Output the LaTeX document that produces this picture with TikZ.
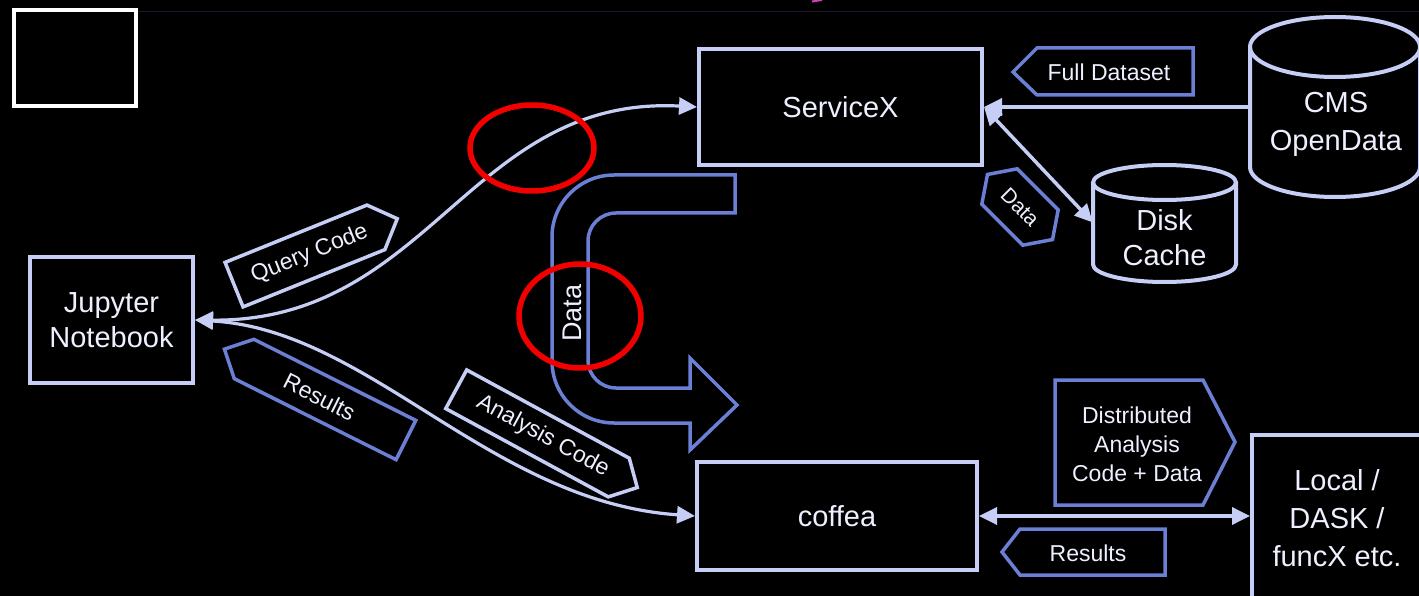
\documentclass[tikz,border=0pt]{standalone}
\usepackage{fontspec}
\setmainfont{Liberation Sans}
\usetikzlibrary{arrows.meta}
\definecolor{lav}{HTML}{C6CEF6}
\definecolor{tagblue}{HTML}{6B7FD4}
\definecolor{txt}{HTML}{EEF0FF}
\definecolor{faint}{HTML}{1C1630}
\definecolor{redc}{HTML}{F20000}
\definecolor{pinkc}{HTML}{D040C0}
\begin{document}
\begin{tikzpicture}[x=1pt,y=-1pt,
  box/.style={draw=lav, line width=4pt, inner sep=0pt},
  bigtxt/.style={text=txt, font=\fontsize{29}{35}\selectfont, align=center, inner sep=0pt},
  tagtxt/.style={text=txt, font=\fontsize{23}{29}\selectfont, align=center, inner sep=0pt},
  conn/.style={draw=lav, line width=3.2pt},
  sconn/.style={draw=lav, line width=3.5pt},
  cyl/.style={draw=lav, line width=4pt},
  taglav/.style={draw=lav, line width=3.5pt, line join=miter},
  tagblu/.style={draw=tagblue, line width=3.5pt, line join=miter},
  >={Triangle[length=18pt,width=17pt]}
]
\useasboundingbox (0,0) rectangle (1419,596);
\fill[black] (0,0) rectangle (1419,596);
\clip (0,0) rectangle (1419,596);

% faint top line, marks
\draw[faint, line width=1pt] (138,12) -- (1419,12);
\draw[pinkc, line width=2pt] (812,1.5) -- (822,0);
\draw[white, line width=4pt] (14,10) rectangle (136,106);

% main boxes
\node[box, bigtxt, minimum width=283pt, minimum height=116pt] (svx) at (840.5,107) {ServiceX};
\node[box, bigtxt, minimum width=163pt, minimum height=126pt] (jup) at (111.5,320) {Jupyter\\Notebook};
\node[box, bigtxt, minimum width=280pt, minimum height=108pt] (cof) at (837,516) {coffea};
\node[box, minimum width=188pt, minimum height=186pt] (loc) at (1346,528) {};
\node[bigtxt, font=\fontsize{29}{38}\selectfont] (loct) at (1337,518) {Local /\\DASK /\\funcX etc.};

% cylinders
\draw[cyl] (1250,47) -- (1250,167) arc[start angle=180, end angle=360, x radius=85pt, y radius=30pt] -- (1420,47);
\draw[cyl] (1335,47) ellipse [x radius=85pt, y radius=30pt];
\node[bigtxt, font=\fontsize{29}{38}\selectfont, minimum width=170pt] (cms) at (1336,124) {CMS\\OpenData};

\draw[cyl] (1093,182.5) -- (1093,264.5) arc[start angle=180, end angle=360, x radius=71.5pt, y radius=17.5pt] -- (1236,182.5);
\draw[cyl] (1164.5,182.5) ellipse [x radius=71.5pt, y radius=17.5pt];
\node[bigtxt, minimum width=143pt] (disk) at (1164.5,237.5) {Disk\\Cache};

% connectors
\draw[conn,<->] (jup.east) .. controls (430,322) and (470,95) .. (svx.west);
\draw[conn,<->] (jup.east) .. controls (370,330) and (490,502) .. (cof.west);
\draw[sconn,->] (cms.west |- svx.east) -- (svx.east);
\draw[sconn,<->] (svx.east) -- ([yshift=15pt]disk.west);
\draw[sconn,<->] (cof.east) -- (loc.west |- cof.east);

% Query Code tag
\begin{scope}[shift={(305,256)}, rotate=22, transform shape]
  \draw[taglav] (-76.5,-24) -- (76.5,-24) -- (99.5,0) -- (76.5,24) -- (-76.5,24) -- cycle;
  \node[tagtxt] (qc) at (5,0) {Query Code};
\end{scope}

% Results tag (left)
\begin{scope}[shift={(325,399.5)}, rotate=-26.6, transform shape]
  \draw[tagblu] (90.5,-22) -- (-90.5,-22) -- (-112.5,0) -- (-90.5,22) -- (90.5,22) -- cycle;
  \node[tagtxt] (resl) at (-6,0) {Results};
\end{scope}

% Analysis Code tag
\begin{scope}[shift={(537.5,433.4)}, rotate=-28.5, transform shape]
  \draw[taglav] (-92.5,-22) -- (92.5,-22) -- (113.5,0) -- (92.5,22) -- (-92.5,22) -- cycle;
  \node[tagtxt] (ac) at (6,0) {Analysis Code};
\end{scope}

% small Data tag
\begin{scope}[shift={(1020,207)}, rotate=-45, transform shape]
  \draw[tagblu] (-29,-25) -- (29,-25) -- (46,0) -- (29,25) -- (-29,25) -- (-46,0) -- cycle;
  \node[tagtxt, font=\fontsize{21}{25}\selectfont] (dsm) at (0,0) {Data};
\end{scope}

% Full Dataset tag
\draw[tagblu] (1013,72) -- (1037,48) -- (1193,48) -- (1193,95) -- (1037,95) -- cycle;
\node[tagtxt] (fd) at (1109,72) {Full Dataset};

% Results tag (right)
\draw[tagblu] (1002,552) -- (1020,529) -- (1165,529) -- (1165,575) -- (1020,575) -- cycle;
\node[tagtxt] (resr) at (1088,553) {Results};

% Distributed tag
\draw[tagblu] (1055,380) -- (1203,380) -- (1235,442) -- (1203,505) -- (1055,505) -- cycle;
\node[tagtxt] (dist) at (1137,444) {Distributed\\Analysis\\Code + Data};

% Data U-arrow
\draw[tagblu] (735,175) -- (614,175) arc[start angle=90, end angle=180, radius=62pt]
  -- (552,361) arc[start angle=180, end angle=270, radius=62pt]
  -- (690,423) -- (690,450) -- (737,405) -- (690,358) -- (690,388)
  -- (616,388) arc[start angle=270, end angle=180, radius=28pt]
  -- (588,241) arc[start angle=180, end angle=90, radius=28pt]
  -- (735,213) -- cycle;
\node[tagtxt, font=\fontsize{27}{30}\selectfont, rotate=90] (dbig) at (572,313) {Data};

% red annotations
\draw[redc, line width=5.5pt] (532,148) ellipse [x radius=62pt, y radius=43pt];
\draw[redc, line width=5.5pt] (580,316) ellipse [x radius=61pt, y radius=52pt];
\end{tikzpicture}
\end{document}
